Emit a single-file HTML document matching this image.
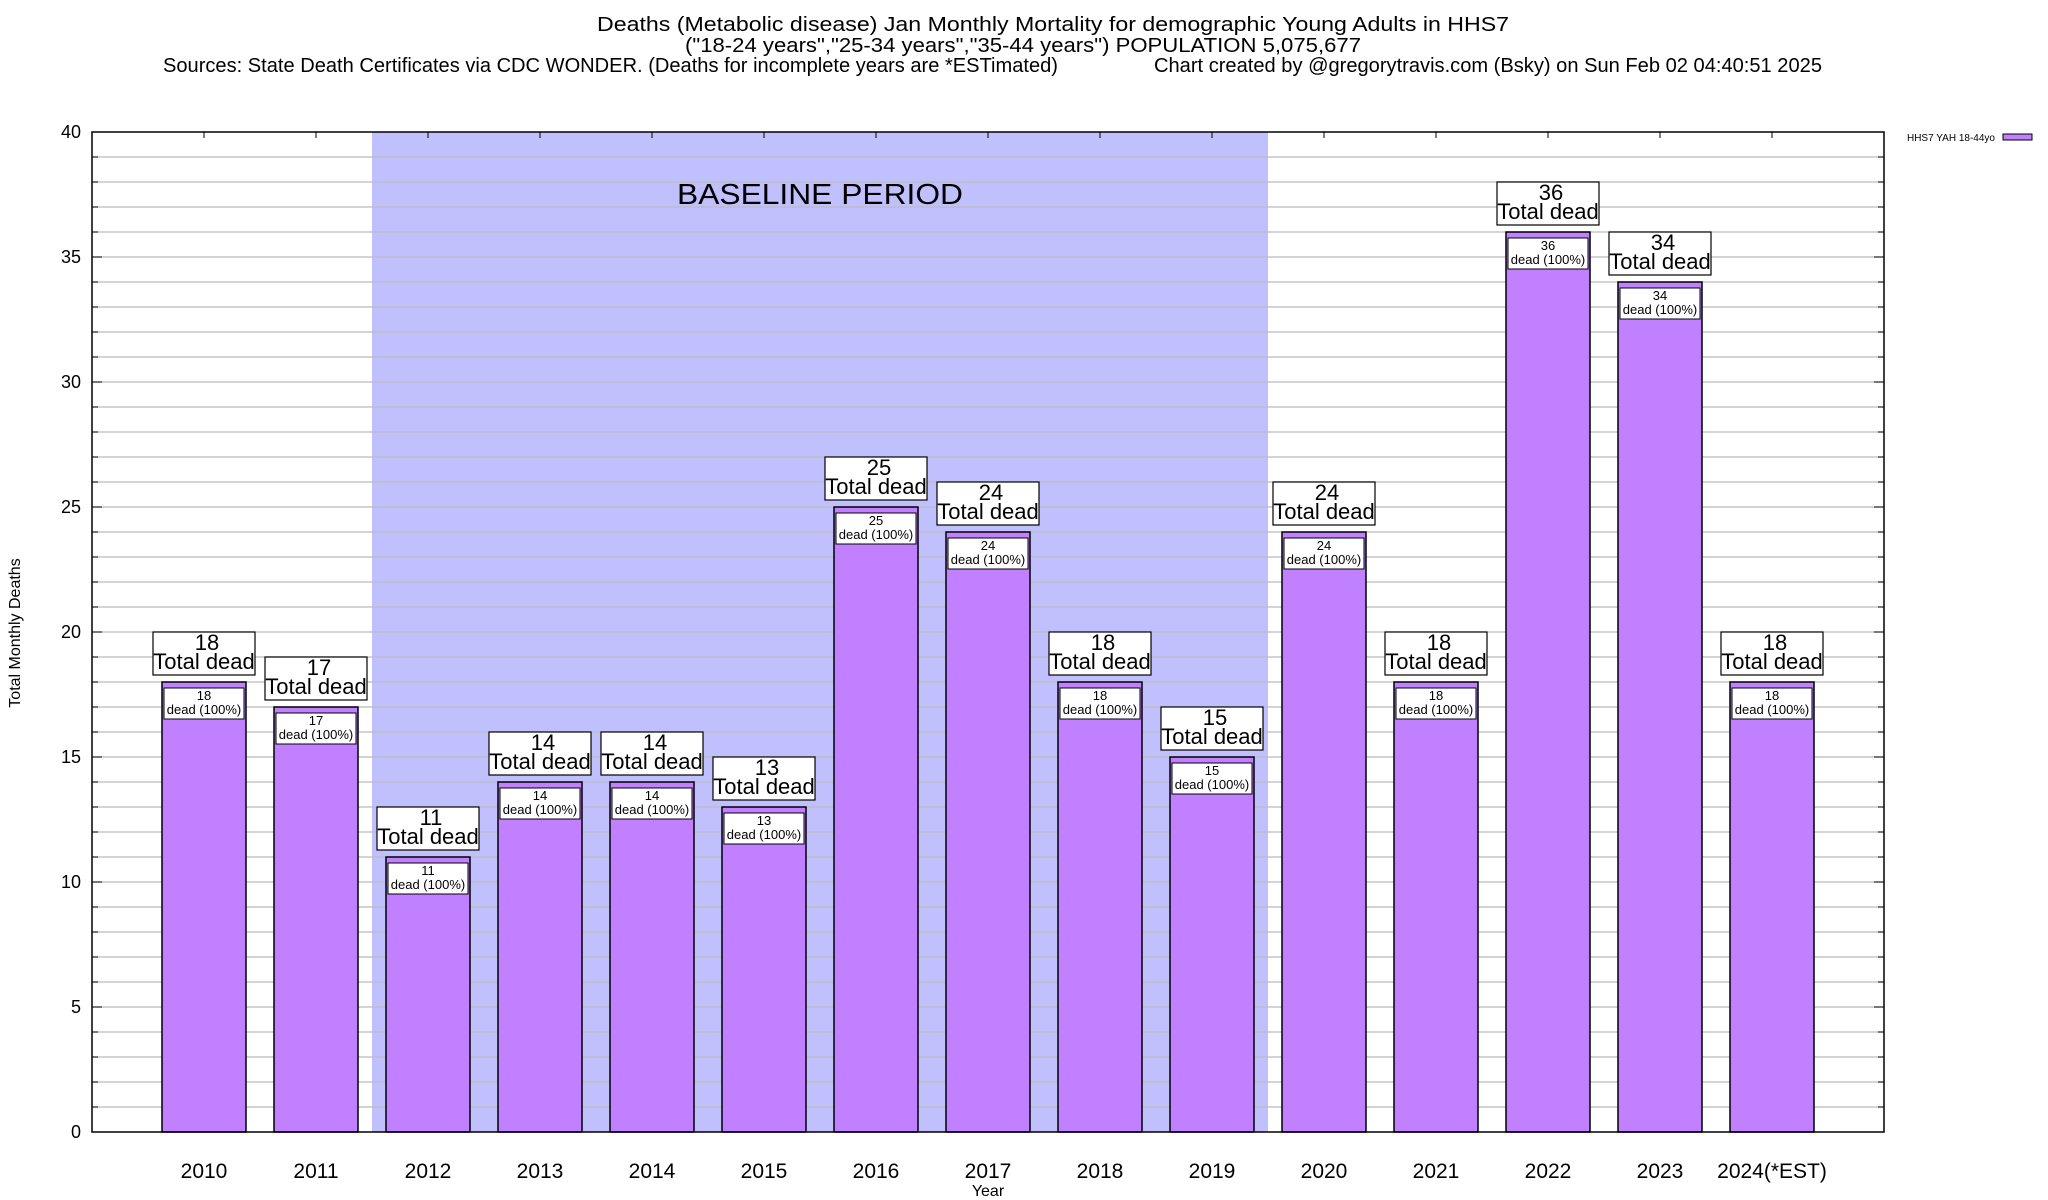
<!DOCTYPE html>
<html><head><meta charset="utf-8"><style>
html,body{margin:0;padding:0;background:#fff;}
svg{display:block;font-family:"Liberation Sans",sans-serif;}
</style></head><body>
<svg id="chart" width="2048" height="1200" viewBox="0 0 2048 1200" xmlns="http://www.w3.org/2000/svg">
<g font-size="20" fill="#000">
<text x="597" y="31" textLength="912" lengthAdjust="spacingAndGlyphs">Deaths (Metabolic disease) Jan Monthly Mortality for demographic Young Adults in HHS7</text>
<text x="685" y="52" textLength="676" lengthAdjust="spacingAndGlyphs">("18-24 years","25-34 years","35-44 years") POPULATION 5,075,677</text>
<text x="163" y="72" textLength="895" lengthAdjust="spacingAndGlyphs">Sources: State Death Certificates via CDC WONDER. (Deaths for incomplete years are *ESTimated)</text>
<text x="1154" y="72" textLength="668" lengthAdjust="spacingAndGlyphs">Chart created by @gregorytravis.com (Bsky) on Sun Feb 02 04:40:51 2025</text>
</g>
<g id="plot"></g>
<text x="20" y="633" transform="rotate(-90 20 633)" font-size="16" text-anchor="middle">Total Monthly Deaths</text>
<text x="988" y="1196" font-size="16" text-anchor="middle">Year</text>
<g>
<text x="1995" y="141" font-size="10" text-anchor="end">HHS7 YAH 18-44yo</text>
<rect x="2003" y="134" width="29" height="6" fill="#c080ff" stroke="#000" stroke-width="1"/>
</g>
</svg>
<script>
const categories = ["2010","2011","2012","2013","2014","2015","2016","2017","2018","2019","2020","2021","2022","2023","2024(*EST)"];
const deaths = [18,17,11,14,14,13,25,24,18,15,24,18,36,34,18];
const yTicks = [0,5,10,15,20,25,30,35,40];
const baselineStart = 2, baselineEnd = 9;

const L=92,R=1884,T=132,B=1132,YMAX=40;
const X=i=>L+(i+1)*112;
const Y=v=>B-(v/YMAX)*(B-T);
const NS="http://www.w3.org/2000/svg";
const plot=document.getElementById('plot');
function mk(tag,attrs,parent,text){const e=document.createElementNS(NS,tag);for(const k in attrs)e.setAttribute(k,attrs[k]);if(text!==undefined)e.textContent=text;(parent||plot).appendChild(e);return e;}

let sh=mk('rect',{x:X(baselineStart)-56,y:T,width:X(baselineEnd)+56-(X(baselineStart)-56),height:B-T,fill:'#c0c0ff'});


for(let v=1;v<YMAX;v++){
  let g=mk('line',{x1:L,x2:R,y1:Y(v),y2:Y(v),stroke:'#bbbbbb','stroke-width':1.2});
  
  
  mk('line',{x1:L,x2:L+6,y1:Y(v),y2:Y(v),stroke:'#000','stroke-width':1});
  mk('line',{x1:R,x2:R-6,y1:Y(v),y2:Y(v),stroke:'#000','stroke-width':1});
}
yTicks.forEach(v=>{
  mk('line',{x1:L,x2:L+10,y1:Y(v),y2:Y(v),stroke:'#000','stroke-width':1});
  mk('line',{x1:R,x2:R-10,y1:Y(v),y2:Y(v),stroke:'#000','stroke-width':1});
  let t=mk('text',{x:81,y:Y(v)+6,'font-size':18,'text-anchor':'end'},plot,String(v));
  
  
});
let bl=mk('text',{x:820,y:204,'font-size':29,'text-anchor':'middle',textLength:286,lengthAdjust:'spacingAndGlyphs'},plot,'BASELINE PERIOD');



categories.forEach((c,i)=>{
  const cx=X(i), v=deaths[i], top=Y(v);
  mk('line',{x1:cx,x2:cx,y1:T,y2:T+6,stroke:'#000'});
  mk('line',{x1:cx,x2:cx,y1:B,y2:B-6,stroke:'#000'});
  let b=mk('rect',{x:cx-42,y:top,width:84,height:B-top,fill:'#c080ff',stroke:'#000','stroke-width':1.5});
  
  
  let ib=mk('rect',{x:cx-40,y:top+6,width:80,height:31,fill:'#fff',stroke:'#000','stroke-width':1});
  
  
  mk('text',{x:cx,y:top+18,'font-size':13,'text-anchor':'middle'},plot,String(v));
  mk('text',{x:cx,y:top+32,'font-size':13,'text-anchor':'middle'},plot,'dead (100%)');
  let ob=mk('rect',{x:cx-51,y:top-50,width:102,height:43,fill:'#fff',stroke:'#000','stroke-width':1.2});
  
  
  mk('text',{x:cx+3,y:top-32,'font-size':22,'text-anchor':'middle'},plot,String(v));
  mk('text',{x:cx,y:top-13,'font-size':22,'text-anchor':'middle'},plot,'Total dead');
  let xl=mk('text',{x:cx,y:1178,'font-size':21,'text-anchor':'middle'},plot,c);
  
  
});
let fr=mk('rect',{x:L,y:T,width:R-L,height:B-T,fill:'none',stroke:'#000','stroke-width':1.5});


</script>
</body></html>
